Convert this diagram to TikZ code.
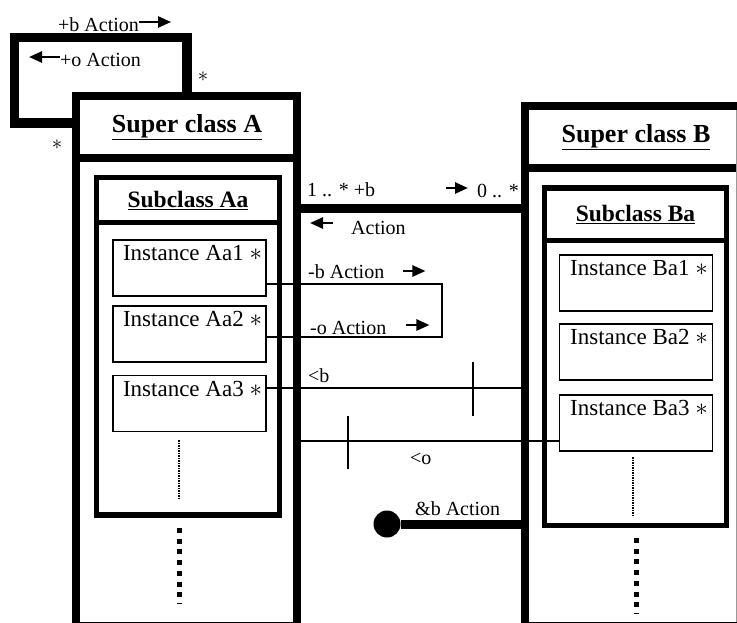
\documentclass[tikz,border=0pt]{standalone}
\usepackage{fontspec}
\setmainfont{Liberation Serif}
\usetikzlibrary{arrows.meta}

\begin{document}
\begin{tikzpicture}[x = 1pt, y = -1pt,
	heavy/.style = {line width = 8.5pt},
	superbox/.style = {draw, heavy, fill = white, inner sep = 0pt},
	subbox/.style = {draw, line width = 5.5pt, fill = white, inner sep = 0pt},
	inst/.style = {draw, line width = 1.8pt, fill = white, inner sep = 0pt, minimum width = 153pt, minimum height = 56pt},
	link/.style = {line width = 1.6pt},
	assoc/.style = {line width = 9pt},
	lbl/.style = {inner sep = 0pt, font = \fontsize{20}{24}\selectfont},
	head/.style = {inner sep = 0pt, font = \fontsize{26}{30}\selectfont\bfseries},
	subhead/.style = {inner sep = 0pt, font = \fontsize{23.5}{28}\selectfont\bfseries},
	itxt/.style = {inner sep = 0pt, font = \fontsize{23}{27}\selectfont, anchor = north, xshift = 3pt, yshift = -6pt},
	dirarr/.style = {line width = 2.5pt, -{Triangle[length = 13pt, width = 11pt]}}]
	\useasboundingbox (0,0) rectangle (737,622);
	\clip (0,0) rectangle (737,622);
	
	% super classes
	\node[superbox, minimum width = 221pt, minimum height = 530pt] (supA) at (186.5,361) {};
	\node[superbox, minimum width = 220pt, minimum height = 520pt] (supB) at (635,366) {};
	\coordinate (hA) at (0,158);
	\coordinate (hB) at (0,168);
	\draw[heavy] (hA -| supA.west) -- (hA -| supA.east);
	\draw[heavy] (hB -| supB.west) -- (hB -| supB.east);
	\draw[line width = 0.8pt, black!40] (736.5,110) -- (736.5,622);
	\node[head] (tA) at (187,127) {\underline{Super class A}};
	\node[head] (tB) at (636,137) {\underline{Super class B}};
	
	% subclasses
	\node[subbox, minimum width = 183pt, minimum height = 337.5pt] (subAa) at (188,346.25) {};
	\node[subbox, minimum width = 182pt, minimum height = 337.5pt] (subBa) at (635.5,356.75) {};
	\coordinate (hAa) at (0,222.5);
	\coordinate (hBa) at (0,240.5);
	\draw[line width = 5.5pt] (hAa -| subAa.west) -- (hAa -| subAa.east);
	\draw[line width = 5.5pt] (hBa -| subBa.west) -- (hBa -| subBa.east);
	\node[subhead] (tAa) at (188,200) {\underline{Subclass Aa}};
	\node[subhead] (tBa) at (635.5,214) {\underline{Subclass Ba}};
	
	% instances
	\foreach \n/\y in {1/268, 2/334, 3/403.5}
		\node[inst, label = {[itxt]north:Instance Aa\n{} $\ast$}] (aa\n) at (189.5,\y) {};
	\foreach \n/\y in {1/283, 2/352, 3/423}
		\node[inst, label = {[itxt]north:Instance Ba\n{} $\ast$}] (ba\n) at (636,\y) {};
	
	\draw[line width = 1.5pt, densely dotted] (179,440) -- (179,498);
	\draw[line width = 5pt, dash pattern = on 5pt off 5.7pt] (179,528) -- (179,603);
	\draw[line width = 1.5pt, densely dotted] (633,457) -- (633,515);
	\draw[line width = 5pt, dash pattern = on 5pt off 5.7pt] (636,538) -- (636,613);
	
	% self association of A
	\coordinate (selfa) at (187,37.5);
	\coordinate (selfb) at (14.5,123);
	\draw[assoc, line width = 9.5pt] (supA.north -| selfa) -- (selfa) -| (selfb) -- (selfb -| supA.west);
	\node[lbl, anchor = west] (pb) at (58,25) {+b Action};
	\draw[dirarr] ([yshift = 3pt]pb.east) -- ++(32,0);
	\node[lbl, anchor = west] (po) at (60,60) {+o Action};
	\draw[dirarr] ([yshift = 3pt]po.west) -- ++(-31,0);
	\node[lbl] (ma1) at (203,77) {$\ast$};
	\node[lbl] (ma2) at (57,145) {$\ast$};
	
	% association A -- B
	\coordinate (ab) at (0,208);
	\draw[assoc] (ab -| supA.east) -- (ab -| supB.west);
	\node[lbl, anchor = west] (mab) at (307,190) {1 .. * +b};
	\node[lbl, anchor = west] (mba) at (477,191) {0 .. *};
	\draw[dirarr] ([xshift = -31pt, yshift = 3pt]mba.west) -- ++(22,0);
	\node[lbl, anchor = west] (act) at (351,228) {Action};
	\draw[dirarr] ([xshift = -18pt, yshift = 5pt]act.west) -- ++(-23,0);
	
	% instance links
	\coordinate (brk) at (442,310);
	\draw[link] ([yshift = -16pt]aa1.east) -| (brk) |- ([yshift = -3pt]aa2.east);
	\node[lbl, anchor = west] (mb) at (308,272) {-b Action};
	\draw[dirarr] ([xshift = 19pt, yshift = 1pt]mb.east) -- ++(22,0);
	\node[lbl, anchor = west] (mo) at (310,328) {-o Action};
	\draw[dirarr] ([xshift = 20pt, yshift = 3pt]mo.east) -- ++(23,0);
	
	\coordinate (lb) at (0,388);
	\draw[link] (aa3.east |- lb) -- (supB.west |- lb);
	\coordinate (tkb) at (473,389);
	\draw[link] ([yshift = 27pt]tkb) -- ([yshift = -27pt]tkb);
	\node[lbl, anchor = west] (lblb) at (308,376) {<b};
	
	\coordinate (lo) at (0,441);
	\draw[link] (supA.east |- lo) -- (ba3.west |- lo);
	\coordinate (tko) at (348,442.5);
	\draw[link] ([yshift = 26.5pt]tko) -- ([yshift = -26.5pt]tko);
	\node[lbl, anchor = west] (lblo) at (410,459) {<o};
	
	\node[circle, fill, inner sep = 0pt, minimum size = 27pt] (amp) at (387,524) {};
	\draw[assoc] (amp) -- (supB.west |- amp);
	\node[lbl, anchor = west] (lamp) at (415,509) {\&b Action};
\end{tikzpicture}
\end{document}
